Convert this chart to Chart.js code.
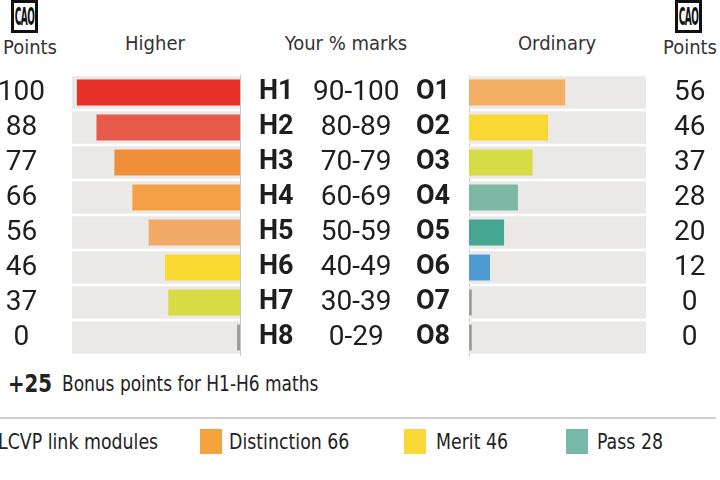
<!DOCTYPE html>
<html>
<head>
<meta charset="utf-8">
<script src="https://cdn.jsdelivr.net/npm/chart.js@4.4.0/dist/chart.umd.min.js"></script>
<style>
  body { margin:0; width:720px; height:480px; background:#fff; position:relative; overflow:hidden;
         font-family:"DejaVu Sans Condensed", "DejaVu Sans", sans-serif; color:#222; }
  .abs { position:absolute; white-space:nowrap; }
  .hd { font-size:20px; color:#333; top:31px; transform:translateX(-50%); }
  .logo { width:21px; height:27px; border:3px solid #111; top:0; font-family:"DejaVu Sans Condensed", sans-serif;
          font-weight:bold; font-size:10px; line-height:27px; text-align:center; letter-spacing:-0.5px; color:#111; overflow:hidden; }
  .logo span { display:inline-block; transform:scaleY(2.4); }
  .sq { width:22px; height:25px; top:429px; }
  .lg { font-size:21px; top:430px; color:#222; transform:scaleX(0.92); transform-origin:left center; }
  #left { position:absolute; left:0; top:0; width:400px; height:360px; }
  #right { position:absolute; left:400px; top:0; width:320px; height:360px; }
</style>
</head>
<body>
<div class="abs logo" style="left:11px"><span>CAO</span></div>
<div class="abs" style="left:3px;top:35px;font-size:20px;color:#333">Points</div>
<div class="abs hd" style="left:155px">Higher</div>
<div class="abs hd" style="left:346px">Your % marks</div>
<div class="abs hd" style="left:557px">Ordinary</div>
<div class="abs logo" style="left:675px"><span>CAO</span></div>
<div class="abs" style="left:663px;top:35px;font-size:20px;color:#333">Points</div>

<div id="left"><canvas id="higher"></canvas></div>
<div id="right"><canvas id="ordinary"></canvas></div>

<div class="abs" style="left:8px;top:369px;font-size:25px;font-weight:bold;transform:scaleX(0.88);transform-origin:left center">+25</div>
<div class="abs" style="left:62px;top:372px;font-size:21px;transform:scaleX(0.9);transform-origin:left center">Bonus points for H1-H6 maths</div>
<div class="abs" style="left:0;top:417px;width:716px;height:2px;background:#cfcfcf"></div>
<div class="abs lg" style="left:-2px">LCVP link modules</div>
<div class="abs sq" style="left:200px;background:#f3a23e"></div>
<div class="abs lg" style="left:229px">Distinction 66</div>
<div class="abs sq" style="left:404px;background:#f9d935"></div>
<div class="abs lg" style="left:436px">Merit 46</div>
<div class="abs sq" style="left:566px;background:#78b8a8"></div>
<div class="abs lg" style="left:597px">Pass 28</div>

<script>
// grades and points
const higherGrades = ['H1', 'H2', 'H3', 'H4', 'H5', 'H6', 'H7', 'H8'];
const ordinaryGrades = ['O1', 'O2', 'O3', 'O4', 'O5', 'O6', 'O7', 'O8'];
const markRanges = ['90-100', '80-89', '70-79', '60-69', '50-59', '40-49', '30-39', '0-29'];
const higherPoints = [100, 88, 77, 66, 56, 46, 37, 0];
const ordinaryPoints = [56, 46, 37, 28, 20, 12, 0, 0];

// bar lengths as drawn (zero grades shown as a thin stub)
const higherBars = [100, 88, 77, 66, 56, 46, 44, 1.8];
const ordinaryBars = [56, 46, 37, 28.5, 20.4, 12.2, 1.6, 1.6];
const rowBackdrop = [103, 103, 103, 103, 103, 103, 103, 103];

const higherColours = ['#e8302a', '#e65a4a', '#f08f3a', '#f4a146', '#f2ab66', '#f9da30', '#d8dc44', '#9b9b9b'];
const ordinaryColours = ['#f2ae62', '#fad733', '#d6dc44', '#7db8a6', '#44a68f', '#4d9ad2', '#9b9b9b', '#9b9b9b'];

const numFont = { family: 'Roboto, sans-serif', size: 28 };
const boldFont = { family: 'Roboto, sans-serif', size: 27, weight: 'bold' };

function sideAxis(position, labels, font, padding, width, weight, border) {
  return {
    type: 'category', axis: 'y', position, labels, offset: true, weight,
    grid: { display: false, drawTicks: false },
    border: border ? { display: true, color: '#c9c6c6', width: 1 } : { display: false },
    ticks: { font, color: '#1e1e1e', padding, crossAlign: 'center', autoSkip: false },
    afterFit(s) { s.width = width; s.paddingTop = 0; s.paddingBottom = 0; }
  };
}

function datasets(bars, colours) {
  return [
    { data: bars, backgroundColor: colours, barPercentage: 0.74, categoryPercentage: 1, grouped: false, order: 1 },
    { data: rowBackdrop, backgroundColor: '#ebe8e8', barPercentage: 0.93, categoryPercentage: 1, grouped: false, order: 2 }
  ];
}

const common = {
  indexAxis: 'y', responsive: true, maintainAspectRatio: false, animation: false,
  layout: { padding: { top: 75, bottom: 5, left: 0, right: 0 } },
  plugins: { legend: { display: false }, tooltip: { enabled: false } }
};

new Chart(document.getElementById('higher'), {
  type: 'bar',
  data: { labels: higherGrades, datasets: datasets(higherBars, higherColours) },
  options: Object.assign({}, common, {
    scales: {
      x: { display: false, reverse: true, min: 0, max: 103 },
      yPts: sideAxis('left', higherPoints.map(String), numFont, 27, 72, 0, false),
      y: sideAxis('right', higherGrades, boldFont, 19, 72, 1, true),
      yRange: sideAxis('right', markRanges, numFont, 1, 88, 2, false)
    }
  })
});

new Chart(document.getElementById('ordinary'), {
  type: 'bar',
  data: { labels: ordinaryGrades, datasets: datasets(ordinaryBars, ordinaryColours) },
  options: Object.assign({}, common, {
    scales: {
      x: { display: false, min: 0, max: 103 },
      y: sideAxis('left', ordinaryGrades, boldFont, 19, 69, 1, true),
      yPts: sideAxis('right', ordinaryPoints.map(String), numFont, 28, 74, 1, false)
    }
  })
});
</script>
</body>
</html>
